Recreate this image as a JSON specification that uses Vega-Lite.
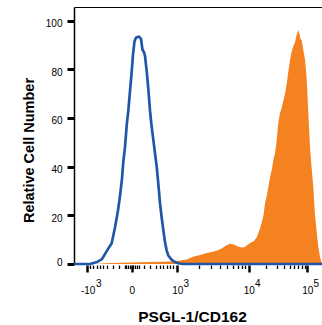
{
  "$schema": "https://vega.github.io/schema/vega-lite/v6.json",
  "width": 248,
  "height": 257,
  "autosize": {"type": "none"},
  "padding": {"left": 74, "top": 7, "right": 0, "bottom": 61},
  "config": {"view": {"stroke": null}, "font": "Liberation Sans", "axis": {"grid": false}},
  "datasets": {
    "iso": [
      {"channel": 0, "count": 0}, {"channel": 64.5, "count": 0}, {"channel": 92.7, "count": 0.8}, {"channel": 112.9, "count": 2},
      {"channel": 133.1, "count": 5.5}, {"channel": 152, "count": 8.5}, {"channel": 165.3, "count": 15}, {"channel": 177.4, "count": 22},
      {"channel": 185.5, "count": 28}, {"channel": 193.5, "count": 35}, {"channel": 198.8, "count": 42}, {"channel": 205.6, "count": 48},
      {"channel": 212.5, "count": 57}, {"channel": 219, "count": 63}, {"channel": 225.8, "count": 71}, {"channel": 231.9, "count": 78},
      {"channel": 237.9, "count": 86}, {"channel": 244, "count": 91.5}, {"channel": 250, "count": 93}, {"channel": 256, "count": 93.3},
      {"channel": 262.1, "count": 93.4}, {"channel": 270.2, "count": 92.5}, {"channel": 276.2, "count": 88}, {"channel": 282.3, "count": 87},
      {"channel": 286.3, "count": 85.5}, {"channel": 294.4, "count": 78}, {"channel": 300.4, "count": 71}, {"channel": 306.5, "count": 63},
      {"channel": 312.5, "count": 57}, {"channel": 318.6, "count": 52}, {"channel": 326.6, "count": 45.5}, {"channel": 333.5, "count": 40},
      {"channel": 339.9, "count": 33}, {"channel": 346.8, "count": 25}, {"channel": 353.6, "count": 19}, {"channel": 360.1, "count": 14},
      {"channel": 366.9, "count": 9}, {"channel": 373.8, "count": 5.5}, {"channel": 380.2, "count": 3.5}, {"channel": 391.1, "count": 2},
      {"channel": 403.2, "count": 1}, {"channel": 419.4, "count": 0.3}, {"channel": 439.5, "count": 0}, {"channel": 1000, "count": 0}
    ],
    "psgl": [
      {"channel": 0, "count": 0}, {"channel": 84.7, "count": 0}, {"channel": 125, "count": 0.3}, {"channel": 225.8, "count": 0.6},
      {"channel": 306.5, "count": 0.8}, {"channel": 387.1, "count": 1}, {"channel": 427.4, "count": 1.4}, {"channel": 454.4, "count": 1.8},
      {"channel": 479.8, "count": 3}, {"channel": 508.1, "count": 3.7}, {"channel": 536.3, "count": 4.5}, {"channel": 560.5, "count": 5},
      {"channel": 580.6, "count": 5.6}, {"channel": 596.8, "count": 6.5}, {"channel": 612.9, "count": 7.6}, {"channel": 629, "count": 8.3},
      {"channel": 645.2, "count": 8}, {"channel": 661.3, "count": 7.2}, {"channel": 677.4, "count": 6.8}, {"channel": 689.5, "count": 7},
      {"channel": 701.6, "count": 8}, {"channel": 713.7, "count": 8.8}, {"channel": 725.8, "count": 9.5}, {"channel": 737.9, "count": 11.2},
      {"channel": 750, "count": 14.5}, {"channel": 758.1, "count": 17.5}, {"channel": 764.1, "count": 20}, {"channel": 770.2, "count": 25},
      {"channel": 778.2, "count": 28.5}, {"channel": 784.3, "count": 32}, {"channel": 790.3, "count": 35.5}, {"channel": 797.2, "count": 38.6},
      {"channel": 804.4, "count": 43}, {"channel": 810.5, "count": 45.5}, {"channel": 816.5, "count": 50}, {"channel": 823.8, "count": 58},
      {"channel": 830.6, "count": 62}, {"channel": 836.7, "count": 64}, {"channel": 844, "count": 67}, {"channel": 850.8, "count": 70},
      {"channel": 857.7, "count": 74}, {"channel": 864.1, "count": 79}, {"channel": 871, "count": 83.8}, {"channel": 877, "count": 87},
      {"channel": 884.3, "count": 89.5}, {"channel": 891.1, "count": 91}, {"channel": 897.2, "count": 94}, {"channel": 904.4, "count": 96.2},
      {"channel": 909.3, "count": 94.5}, {"channel": 913.3, "count": 92.5}, {"channel": 918.1, "count": 92}, {"channel": 924.6, "count": 88},
      {"channel": 931.5, "count": 84}, {"channel": 938.3, "count": 76}, {"channel": 944.8, "count": 62}, {"channel": 951.6, "count": 48},
      {"channel": 957.7, "count": 40}, {"channel": 964.9, "count": 31.8}, {"channel": 971.8, "count": 20}, {"channel": 979.8, "count": 12},
      {"channel": 985.1, "count": 7}, {"channel": 991.9, "count": 3}, {"channel": 996, "count": 1.2}, {"channel": 1000, "count": 0.5}
    ]
  },
  "resolve": {"axis": {"x": "independent"}},
  "layer": [
    {
      "data": {"name": "psgl"},
      "mark": {"type": "area", "color": "#f58220", "opacity": 1},
      "encoding": {
        "x": {
          "field": "channel", "type": "quantitative",
          "scale": {"domain": [0, 1000], "nice": false, "zero": false},
          "axis": {
            "orient": "bottom",
            "values": [51.2, 64.9, 78.2, 91.5, 105.2, 118.5, 134.7, 158.9, 183.1, 205.2, 209.7, 217.7, 225.8, 232.7, 239.5, 247.6, 255.6, 260.1, 282.3, 306.5, 330.6, 346.8, 360.1, 373.8, 387.1, 400.4, 416.5, 503.2, 554.0, 589.9, 617.7, 640.7, 659.7, 676.6, 691.1, 704.4, 775.4, 817.3, 846.8, 869.8, 888.3, 904.0, 917.7, 929.8, 940.7],
            "labelExpr": "datum.value == 51.2 ? '-10' : datum.value == 232.7 ? '0' : datum.value == 416.5 ? '10' : datum.value == 704.4 ? '10' : datum.value == 940.7 ? '10' : ''",
            "domain": false,
            "offset": 1,
            "tickColor": "black",
            "tickSize": {"condition": {"test": "indexof([51.2, 232.7, 416.5, 704.4, 940.7], datum.value) >= 0", "value": 7}, "value": 3.5},
            "tickWidth": {"condition": {"test": "indexof([51.2, 232.7, 416.5, 704.4, 940.7], datum.value) >= 0", "value": 2.5}, "value": 1.3},
            "labelFontSize": 10,
            "labelColor": "black",
            "labelBaseline": "alphabetic",
            "labelPadding": 21.5,
            "labelOffset": {"condition": {"test": "datum.value == 51.2", "value": 1}, "value": 0},
            "labelFlush": false,
            "labelOverlap": false,
            "title": "PSGL-1/CD162",
            "titleFontSize": 15.5,
            "titleFontWeight": "bold",
            "titleColor": "black",
            "titleX": 118,
            "titleY": 56.5,
            "titleBaseline": "alphabetic"
          }
        },
        "y": {
          "field": "count", "type": "quantitative",
          "scale": {"domain": [0, 105.6], "nice": false},
          "axis": {
            "values": [0, 5, 10, 15, 20, 25, 30, 35, 40, 45, 50, 55, 60, 65, 70, 75, 80, 85, 90, 95, 100, 105],
            "labelExpr": "datum.value % 20 == 0 ? datum.label : ''",
            "domain": true,
            "domainColor": "black",
            "domainWidth": 1.5,
            "tickColor": "black",
            "tickSize": {"condition": {"test": "datum.value % 20 == 0", "value": 7}, "value": 4},
            "tickWidth": {"condition": {"test": "datum.value % 20 == 0", "value": 3}, "value": 1.4},
            "labelFontSize": 10,
            "labelColor": "black",
            "labelBaseline": "middle",
            "labelPadding": 5,
            "labelOffset": {"condition": {"test": "datum.value == 0", "value": -2}, "value": 3},
            "labelOverlap": false,
            "title": "Relative Cell Number",
            "titleFontSize": 14.5,
            "titleFontWeight": "bold",
            "titleColor": "black",
            "titleX": -41,
            "titleY": 143,
            "titleBaseline": "alphabetic"
          }
        }
      }
    },
    {
      "data": {"name": "iso"},
      "mark": {"type": "line", "color": "#1f57a6", "strokeWidth": 2.7},
      "encoding": {
        "x": {
          "field": "channel", "type": "quantitative",
          "axis": {"orient": "top", "domain": true, "domainColor": "black", "domainWidth": 1.2, "ticks": false, "labels": false, "title": null}
        },
        "y": {"field": "count", "type": "quantitative"}
      }
    },
    {
      "data": {"name": "iso"},
      "mark": {"type": "point", "opacity": 0},
      "encoding": {
        "x": {
          "field": "channel", "type": "quantitative",
          "axis": {
            "orient": "bottom",
            "offset": 1,
            "values": [51.2, 416.5, 704.4, 940.7],
            "labelExpr": "datum.value == 51.2 ? '3' : datum.value == 416.5 ? '3' : datum.value == 704.4 ? '4' : '5'",
            "domain": false,
            "ticks": false,
            "labelFontSize": 10,
            "labelColor": "black",
            "labelBaseline": "alphabetic",
            "labelPadding": 21.5,
            "labelOffset": {"condition": {"test": "datum.value == 51.2", "value": 11.6}, "value": 8.6},
            "labelFlush": false,
            "labelOverlap": false,
            "title": null
          }
        },
        "y": {"field": "count", "type": "quantitative"}
      }
    }
  ]
}
